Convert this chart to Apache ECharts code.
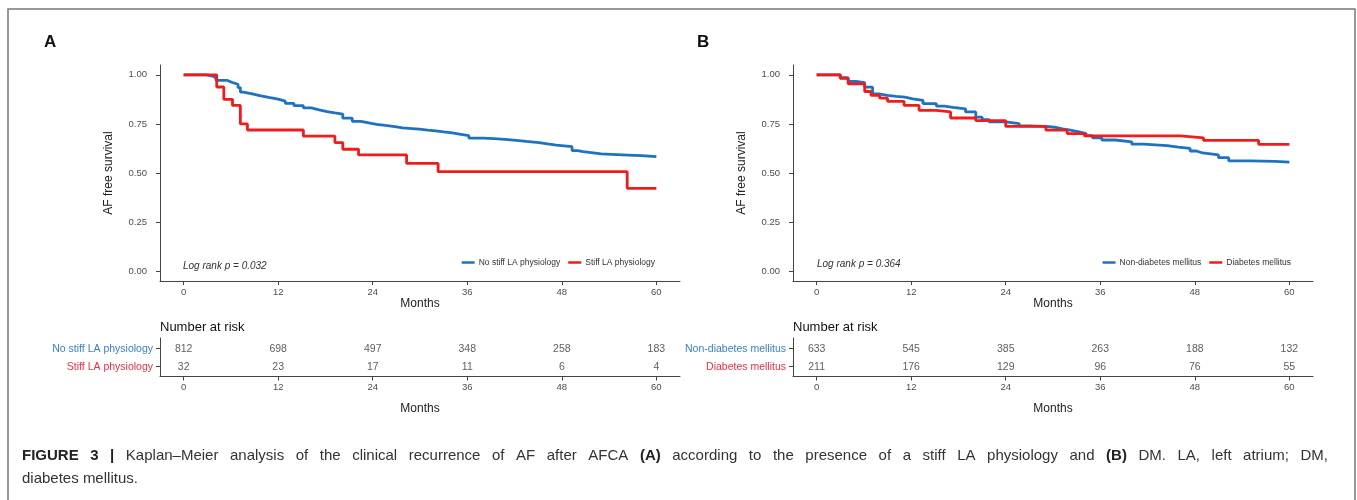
<!DOCTYPE html>
<html>
<head>
<meta charset="utf-8">
<script src="https://cdn.jsdelivr.net/npm/echarts@6/dist/echarts.min.js"></script>
<style>
html,body{margin:0;padding:0;background:#fff;}
#c{width:1357px;height:500px;}
</style>
</head>
<body>
<div id="c"></div>
<script>
// ---------- data ----------
const monthTicks = [0, 12, 24, 36, 48, 60];
const survTicks = [0, 0.25, 0.5, 0.75, 1];

// Panel A: Kaplan-Meier steps [month, survival]
const noStiffLA = [[0,1.00],[2.9,0.992],[3.8,0.983],[4.1,0.972],[5.5,0.962],[6.1,0.952],[6.9,0.935],[7.2,0.912],[7.6,0.903],[8.7,0.893],[9.8,0.885],[10.8,0.876],[12.0,0.866],[12.9,0.855],[14.0,0.843],[15.2,0.832],[16.2,0.822],[17.2,0.813],[18.2,0.806],[19.2,0.800],[20.2,0.779],[21.4,0.763],[22.5,0.755],[23.5,0.748],[24.5,0.742],[25.6,0.736],[26.8,0.730],[27.8,0.726],[29.0,0.723],[29.9,0.718],[31.0,0.714],[32.0,0.709],[33.0,0.704],[34.1,0.698],[35.0,0.690],[36.2,0.678],[38.0,0.675],[39.4,0.671],[40.8,0.666],[42.2,0.661],[43.5,0.655],[45.1,0.648],[46.2,0.642],[47.3,0.634],[49.3,0.614],[50.0,0.609],[50.7,0.603],[52.0,0.597],[53.0,0.591],[56.4,0.588],[58.1,0.583],[60,0.583]];
const stiffLA = [[0,1.00],[4.2,0.938],[5.1,0.875],[6.2,0.844],[7.2,0.750],[8.1,0.719],[15.2,0.688],[19.2,0.655],[20.2,0.621],[22.2,0.592],[28.3,0.549],[32.3,0.507],[56.3,0.422],[60,0.422]];

// Panel B
const nonDM = [[0,1.00],[3.0,0.985],[4.0,0.966],[5.0,0.960],[6.1,0.937],[7.1,0.903],[7.9,0.895],[9.0,0.890],[10.1,0.886],[11.2,0.878],[12.2,0.870],[13.5,0.853],[15.2,0.841],[16.2,0.834],[17.3,0.827],[18.9,0.811],[20.2,0.785],[21.0,0.772],[21.9,0.760],[24.0,0.752],[25.7,0.740],[27.0,0.737],[29.1,0.733],[30.2,0.725],[31.2,0.718],[32.2,0.710],[33.3,0.701],[34.2,0.690],[35.0,0.679],[36.2,0.668],[37.9,0.659],[40.0,0.647],[41.5,0.643],[43.0,0.639],[44.5,0.632],[45.9,0.625],[47.4,0.612],[48.2,0.602],[49.0,0.592],[51.0,0.578],[52.3,0.562],[55.0,0.559],[58.2,0.555],[60,0.555]];
const DM = [[0,1.00],[3.0,0.982],[4.0,0.954],[6.1,0.915],[6.9,0.895],[8.0,0.881],[9.0,0.865],[11.1,0.844],[13.0,0.819],[15.2,0.811],[17.0,0.780],[20.2,0.767],[24.0,0.737],[29.1,0.718],[31.8,0.701],[34.0,0.689],[46.2,0.679],[49.1,0.666],[56.1,0.646],[60,0.646]];

// Numbers at risk
const riskMonths = [0, 12, 24, 36, 48, 60];
const riskNoStiff = [812, 698, 497, 348, 258, 183];
const riskStiff = [32, 23, 17, 11, 6, 4];
const riskNonDM = [633, 545, 385, 263, 188, 132];
const riskDM = [211, 176, 129, 96, 76, 55];

const namesA = ['No stiff LA physiology', 'Stiff LA physiology'];
const namesB = ['Non-diabetes mellitus', 'Diabetes mellitus'];
const pA = 'Log rank p = 0.032';
const pB = 'Log rank p = 0.364';
const captionLine1 = 'FIGURE 3 | Kaplan–Meier analysis of the clinical recurrence of AF after AFCA (A) according to the presence of a stiff LA physiology and (B) DM. LA, left atrium; DM,';
const captionLine2 = 'diabetes mellitus.';
const captionBold = ['FIGURE', '3', '|', '(A)', '(B)'];

// ---------- style ----------
const FONT = '"Liberation Sans", Arial, sans-serif';
const BLUE = '#1f72c2', RED = '#f01c1c';
const BLUE_T = '#3b80c4', RED_T = '#ea2f45';
const AX = '#444', TICKC = '#4d4d4d';
const CAP_SIZE = 15, CAP_LEFT = 22, CAP_RIGHT = 1328;

const chart = echarts.init(document.getElementById('c'), null, {renderer: 'canvas'});

function curveGrid(left) { return {left: left, top: 65, width: 520, height: 216, containLabel: false, outerBoundsMode: 'none'}; }
function tableGrid(left) { return {left: left, top: 338, width: 520, height: 38.5, containLabel: false, outerBoundsMode: 'none'}; }

function monthAxis(gi, gap) {
  return {
    type: 'value', gridIndex: gi, min: -3, max: 63,
    axisLine: {show: true, onZero: false, lineStyle: {color: AX, width: 1}},
    axisTick: {show: true, customValues: monthTicks, length: 4, lineStyle: {color: AX}},
    axisLabel: {customValues: monthTicks, fontSize: 9.5, color: TICKC, margin: 6, fontFamily: FONT},
    splitLine: {show: false},
    name: 'Months', nameLocation: 'middle', nameGap: gap,
    nameTextStyle: {fontSize: 12, color: '#222', fontFamily: FONT}
  };
}
function survAxis(gi) {
  return {
    type: 'value', gridIndex: gi, min: -0.05, max: 1.05,
    axisLine: {show: true, onZero: false, lineStyle: {color: AX, width: 1}},
    axisTick: {show: true, customValues: survTicks, length: 4, lineStyle: {color: AX}},
    axisLabel: {customValues: survTicks, fontSize: 9.5, color: TICKC, margin: 13, fontFamily: FONT,
      formatter: v => v.toFixed(2)},
    splitLine: {show: false},
    name: 'AF free survival', nameLocation: 'middle', nameGap: 45,
    nameTextStyle: {fontSize: 12, color: '#222', fontFamily: FONT}
  };
}
function rowAxis(gi, names) {
  return {
    type: 'value', gridIndex: gi, min: 0.45, max: 2.6,
    axisLine: {show: true, onZero: false, lineStyle: {color: AX, width: 1}},
    axisTick: {show: true, customValues: [1, 2], length: 4, lineStyle: {color: AX}},
    axisLabel: {customValues: [1, 2], margin: 7, fontFamily: FONT,
      formatter: v => v === 2 ? '{b|' + names[0] + '}' : '{r|' + names[1] + '}',
      rich: {b: {color: BLUE_T, fontSize: 10.5, fontFamily: FONT}, r: {color: RED_T, fontSize: 10.5, fontFamily: FONT}}},
    splitLine: {show: false}
  };
}
function curve(name, data, color, gi) {
  return {type: 'line', name: name, data: data, step: 'end', symbol: 'none', showSymbol: false,
    xAxisIndex: gi, yAxisIndex: gi, lineStyle: {color: color, width: 2.8}, itemStyle: {color: color},
    emphasis: {disabled: true}, animation: false};
}
function riskSeries(vals, row, gi) {
  return {type: 'scatter', data: riskMonths.map((m, i) => [m, row, vals[i]]), symbolSize: 1,
    xAxisIndex: gi, yAxisIndex: gi, itemStyle: {color: 'transparent'}, silent: true, animation: false,
    label: {show: true, position: 'inside', formatter: p => String(p.value[2]), fontSize: 10.5, color: '#333', fontFamily: FONT}};
}
function legend(names, right) {
  return {data: names, right: right, top: 258, orient: 'horizontal', padding: 0, itemGap: 8,
    icon: 'rect', itemWidth: 13, itemHeight: 2.5, selectedMode: false,
    textStyle: {fontSize: 8.5, color: '#333', fontFamily: FONT, padding: [0, 0, 0, -1]}};
}

// justified first caption line (word positions from text measurement)
function captionGraphics() {
  const ctx = document.createElement('canvas').getContext('2d');
  const words = captionLine1.split(' ');
  const widths = words.map(w => {
    ctx.font = (captionBold.includes(w) ? 'bold ' : '') + CAP_SIZE + 'px "Liberation Sans", Arial, sans-serif';
    return ctx.measureText(w).width;
  });
  const total = widths.reduce((a, b) => a + b, 0);
  const gap = (CAP_RIGHT - CAP_LEFT - total) / (words.length - 1);
  const out = [];
  let x = CAP_LEFT;
  words.forEach((w, i) => {
    const bold = captionBold.includes(w);
    out.push({type: 'text', x: x, y: 456, silent: true, style: {text: w, fontSize: CAP_SIZE, fontFamily: FONT,
      fontWeight: bold ? 'bold' : 'normal', fill: bold ? '#222' : '#333', verticalAlign: 'middle'}});
    x += widths[i] + gap;
  });
  out.push({type: 'text', x: CAP_LEFT, y: 479, silent: true, style: {text: captionLine2, fontSize: CAP_SIZE, fill: '#333', fontFamily: FONT, verticalAlign: 'middle'}});
  return out;
}

const option = {
  animation: false,
  textStyle: {fontFamily: FONT},
  grid: [curveGrid(160), tableGrid(160), curveGrid(793), tableGrid(793)],
  xAxis: [monthAxis(0, 16), monthAxis(1, 26), monthAxis(2, 16), monthAxis(3, 26)],
  yAxis: [survAxis(0), rowAxis(1, namesA), survAxis(2), rowAxis(3, namesB)],
  legend: [legend(namesA, 702), legend(namesB, 66)],
  series: [
    curve(namesA[0], noStiffLA, BLUE, 0),
    curve(namesA[1], stiffLA, RED, 0),
    riskSeries(riskNoStiff, 2, 1),
    riskSeries(riskStiff, 1, 1),
    curve(namesB[0], nonDM, BLUE, 2),
    curve(namesB[1], DM, RED, 2),
    riskSeries(riskNonDM, 2, 3),
    riskSeries(riskDM, 1, 3)
  ],
  graphic: [
    {type: 'rect', shape: {x: 8, y: 9, width: 1347, height: 520}, style: {fill: 'none', stroke: '#777', lineWidth: 1.5}, silent: true},
    {type: 'text', x: 44, y: 42, style: {text: 'A', fontSize: 17, fontWeight: 'bold', fill: '#111', fontFamily: FONT, verticalAlign: 'middle'}},
    {type: 'text', x: 697, y: 42, style: {text: 'B', fontSize: 17, fontWeight: 'bold', fill: '#111', fontFamily: FONT, verticalAlign: 'middle'}},
    {type: 'text', x: 183, y: 266, style: {text: pA, fontSize: 10, fontStyle: 'italic', fill: '#333', fontFamily: FONT, verticalAlign: 'middle'}},
    {type: 'text', x: 817, y: 264, style: {text: pB, fontSize: 10, fontStyle: 'italic', fill: '#333', fontFamily: FONT, verticalAlign: 'middle'}},
    {type: 'text', x: 160, y: 327, style: {text: 'Number at risk', fontSize: 13, fill: '#111', fontFamily: FONT, verticalAlign: 'middle'}},
    {type: 'text', x: 793, y: 327, style: {text: 'Number at risk', fontSize: 13, fill: '#111', fontFamily: FONT, verticalAlign: 'middle'}}
  ].concat(captionGraphics())
};
chart.setOption(option);
</script>
</body>
</html>
